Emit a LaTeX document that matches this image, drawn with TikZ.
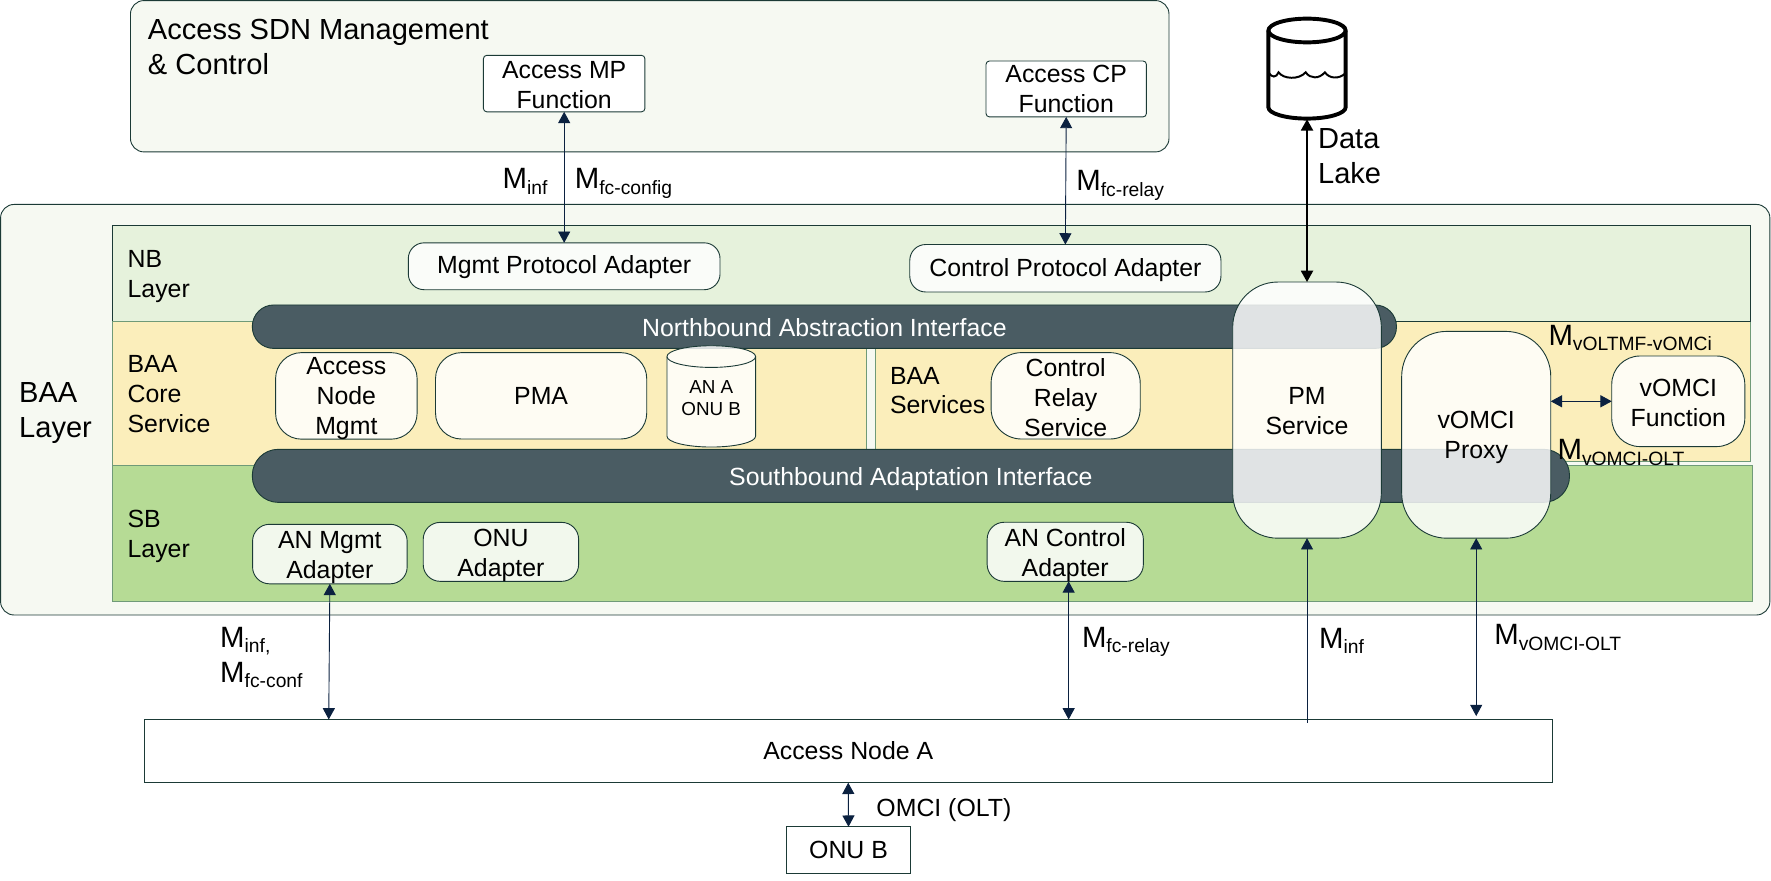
\documentclass[tikz,border=0pt]{standalone}
\usepackage{fontspec}
\setmainfont{Liberation Sans}
\usetikzlibrary{arrows.meta}

\definecolor{outlinedark}{HTML}{1B3A36}
\definecolor{outlinesoft}{HTML}{6F9A78}
\definecolor{arrownavy}{HTML}{0B2140}
\definecolor{panelfill}{HTML}{F6F9F2}
\definecolor{nbfill}{HTML}{E6F2DC}
\definecolor{corefill}{HTML}{FBEEBB}
\definecolor{sbfill}{HTML}{B6DB95}
\definecolor{pillfill}{HTML}{4A5C63}

\newcommand{\bigsize}{\fontsize{19.3}{23.4}\selectfont}
\newcommand{\smallsize}{\fontsize{12.5}{15}\selectfont}
\newcommand{\msub}[1]{{\fontsize{19.5}{23.4}\selectfont M}\raisebox{-3.75pt}{\fontsize{12.8}{15}\selectfont #1}}
% taller first line, pushes the centred text down
\newcommand{\tdrop}[1]{\rule{0pt}{#1pt}}

\tikzset{
  every node/.style={inner sep=0pt,outer sep=0pt,font=\fontsize{16.5}{19.9}\selectfont},
  boxsize/.style 2 args={anchor=north west,minimum width=#1*0.75pt,minimum height=#2*0.75pt,align=center},
  panel/.style={draw=outlinedark,line width=0.6pt,fill=panelfill,rounded corners=#1*0.75pt},
  plainbox/.style={draw=outlinedark,line width=0.6pt,fill=white},
  softbox/.style={draw=outlinedark,line width=0.6pt,fill=white,fill opacity=0.83,text opacity=1,rounded corners=#1*0.75pt},
  pill/.style={draw=outlinedark,line width=0.6pt,fill=pillfill,text=white,rounded corners=#1*0.75pt},
  caption/.style={anchor=west,align=left},
  linklabel/.style={anchor=base west},
  link/.style={arrownavy,line width=0.6pt,{Triangle[length=7.5pt,width=8pt]}-{Triangle[length=7.5pt,width=8pt]}},
  uplink/.style={arrownavy,line width=0.6pt,-{Triangle[length=7.5pt,width=8pt]}},
  lakelink/.style={black,line width=1.2pt,{Triangle[length=7.5pt,width=8pt]}-{Triangle[length=7.5pt,width=8pt]}},
}

\begin{document}
\begin{tikzpicture}[x=0.75pt,y=0.75pt,yscale=-1,xscale=1]
\useasboundingbox (0,0) rectangle (1568,779.3);

% Access SDN block
\node (sdn) [panel=12,boxsize={919.5}{134}] at (115.5,0.5) {};
\node (sdntext) [caption,font=\bigsize] at (131,41.5) {Access SDN Management\\\& Control};
\node (mpfunc) [plainbox,rounded corners=2.25pt,boxsize={143}{50}] at (428,49) {\tdrop{12.75}Access MP\\Function};
\node (cpfunc) [plainbox,rounded corners=2.25pt,boxsize={142}{49.5}] at (873,54) {Access CP\\Function};

% BAA layer and its bands
\node (baa) [panel=12,boxsize={1566.5}{363.5}] at (0.5,181) {};
\node (baatext) [caption,font=\bigsize] at (17,365.5) {BAA\\Layer};
\node (coreright) [draw=outlinesoft,line width=0.6pt,fill=corefill,boxsize={775}{123.9}] at (775,284.5) {};
\node (nbband) [draw=outlinedark,line width=0.6pt,fill=nbfill,boxsize={1450.4}{84.5}] at (99.6,200) {};
\node (coreleft) [draw=outlinesoft,line width=0.6pt,fill=corefill,boxsize={667.4}{127.4}] at (99.6,284.5) {};
\node (sbband) [draw=outlinesoft,line width=0.6pt,fill=sbfill,boxsize={1452.4}{121}] at (99.6,411.7) {};

% Band captions
\node (nbtext) [caption] at (113,244.5) {NB\\Layer};
\node (coretext) [caption] at (113,349.2) {BAA\\Core\\Service};
\node (sbtext) [caption] at (113,474.5) {SB\\Layer};
\node (svctext) [caption] at (788,345.8) {BAA\\Services};

% Interfaces
\node (nai) [pill=19,boxsize={1013}{38.5}] at (223.4,270) {\tdrop{13.5}Northbound Abstraction Interface};
\node (sai) [pill=23,boxsize={1166.2}{47}] at (223.4,397.8) {\tdrop{16.5}Southbound Adaptation Interface};

% NB adapters
\node (mgmtad) [softbox=14,boxsize={276}{41.5}] at (361.5,215) {\tdrop{13.5}Mgmt Protocol Adapter};
\node (ctrlad) [softbox=14,boxsize={275.5}{42}] at (805.5,216.5) {\tdrop{15}Control Protocol Adapter};

% Core services
\node (anmgmt) [softbox=23,boxsize={125.3}{76.5}] at (244,312.2) {\tdrop{14.25}Access\\Node\\Mgmt};
\node (pma) [softbox=23,boxsize={187}{76.5}] at (385.6,312.2) {PMA};
\draw [draw=outlinedark,line width=0.6pt,fill=white,fill opacity=0.83] (590.5,315.7) -- (590.5,386.2) arc (180:0:39.25 and 9.6) -- (669,315.7) arc (0:-180:39.25 and 9.6) -- cycle;
\draw [outlinedark,line width=0.6pt] (590.5,315.7) arc (180:0:39.25 and 9.6);
\node (store) [align=center,font=\smallsize] at (629.7,352.5) {AN A\\ONU B};
\node (relay) [softbox=27,boxsize={132}{76.5}] at (877.5,312.2) {\tdrop{14.25}Control\\Relay\\Service};
\node (vfunc) [softbox=25,boxsize={117.8}{80.2}] at (1427,315.2) {\tdrop{13.2}vOMCI\\Function};

% SB adapters
\node (anad) [softbox=15,boxsize={136.9}{52.3}] at (223.6,464.2) {\tdrop{16.2}AN Mgmt\\Adapter};
\node (onuad) [softbox=15,boxsize={137.6}{52.2}] at (374.7,462.5) {\tdrop{15.75}ONU\\Adapter};
\node (anctrl) [softbox=15,boxsize={138.3}{52.3}] at (874,462.4) {\tdrop{15.75}AN Control\\Adapter};

% Tall services over the interfaces
\node (pmsvc) [softbox=40,boxsize={131.6}{226.8}] at (1091.4,249.7) {\tdrop{12.75}PM\\Service};
\node (proxy) [softbox=40,boxsize={132}{183.1}] at (1241,293.4) {\tdrop{15}vOMCI\\Proxy};

% Access node and ONU
\node (ana) [plainbox,boxsize={1247}{56}] at (127.5,637) {Access Node A};
\node (onub) [plainbox,boxsize={109.5}{41.5}] at (696.5,732) {ONU B};
\coordinate (minfbase) at (pmsvc.south |- ana.north);

% Data lake
\node (lake) [boxsize={68.4}{89.6}] at (1123,16) {};
\draw [black,line width=2.6pt,fill=white] (1123,27) -- (1123,95) arc (180:0:34.2 and 10) -- (1191.4,27) arc (0:-180:34.2 and 10.5) -- cycle;
\draw [black,line width=2.6pt] (1123,27) arc (180:0:34.2 and 10.5);
\draw [black,line width=1.3pt] (1123,64) .. controls (1126,69) and (1130,69) .. (1132,64) .. controls (1136,70) and (1150,71) .. (1156,64) .. controls (1160,70) and (1168,70) .. (1173,64) .. controls (1177,70) and (1186,70) .. (1191,65);
\node (laketext) [caption,font=\bigsize] at (1167,138.5) {Data\\Lake};

% Links
\draw [link] (mpfunc.south) -- (mgmtad.north);
\draw [link] (cpfunc.south) -- (ctrlad.north);
\draw [lakelink] (lake.south) -- (pmsvc.north);
\draw [link] (anad.south) -- ([xshift=-0.75pt]anad.south |- ana.north);
\draw [link] ([xshift=2.25pt]anctrl.south) -- ([xshift=2.25pt]anctrl.south |- ana.north);
\draw [uplink] ([yshift=2.25pt]minfbase) -- (pmsvc.south);
\draw [link,shorten >=2.25pt] (proxy.south) -- (proxy.south |- ana.north);
\draw [link] (vfunc.west) -- (vfunc.west -| proxy.east);
\draw [link] (ana.south) -- (onub.north);

% Link labels
\node (lbminf) [linklabel] at (445,167) {\msub{inf}};
\node (lbcfg) [linklabel] at (509,167) {\msub{fc-config}};
\node (lbrelay) [linklabel] at (953,169) {\msub{fc-relay}};
\node (lbtmf) [linklabel] at (1371,305.6) {\msub{vOLTMF-vOMCi}};
\node (lbolt) [linklabel] at (1379,407) {\msub{vOMCI-OLT}};
\node (lbinf) [linklabel] at (195,573) {\msub{inf,}};
\node (lbconf) [linklabel] at (195,604) {\msub{fc-conf}};
\node (lbrelayb) [linklabel] at (958,573) {\msub{fc-relay}};
\node (lbminfb) [linklabel] at (1168,574) {\msub{inf}};
\node (lboltb) [linklabel] at (1323,571) {\msub{vOMCI-OLT}};
\node (lbomci) [caption] at (776,717.5) {OMCI (OLT)};

\end{tikzpicture}
\end{document}
